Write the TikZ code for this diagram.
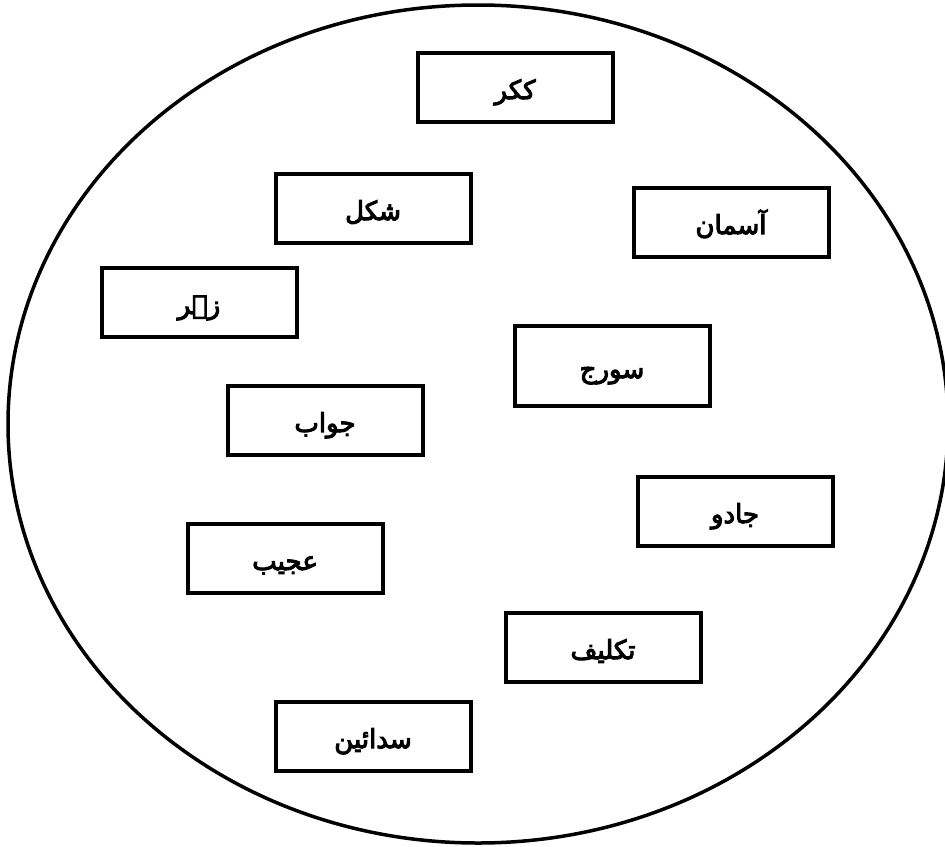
\documentclass[tikz,border=0pt]{standalone}
\usepackage{fontspec}
\newfontfamily\urdufont[Script=Arabic,FakeBold=4]{DejaVu Sans}
\TeXXeTstate=1
\usetikzlibrary{positioning}

\begin{document}
\begin{tikzpicture}[x=1pt,y=-1pt,
		word/.style={draw, line width=4pt, minimum width=195pt, minimum height=69pt, inner sep=0pt, text height=24pt, text depth=0pt, font=\urdufont\fontsize{26}{30}\selectfont}]
			\useasboundingbox (0,0) rectangle (945,846);
			% Outer set
			\draw[line width=3.5pt] (478,424) ellipse (470 and 419);
			% Words
			\node[word] (kukar) at (515,87) {\beginR ککر\endR};
			\node[word] (shakl) at (373,208) {\beginR شکل\endR};
			\node[word] (asman) at (731,222) {\beginR آسمان\endR};
			\node[word] (zehar) at (199,302) {\beginR زہر\endR};
			\node[word, minimum height=80pt] (suraj) at (612,366) {\beginR سورج\endR};
			\node[word] (jawab) at (325,420) {\beginR جواب\endR};
			\node[word] (jadu) at (735,511) {\beginR جادو\endR};
			\node[word] (ajeeb) at (285,558) {\beginR عجیب\endR};
			\node[word] (takleef) at (603,647) {\beginR تکلیف\endR};
			\node[word] (sadain) at (373,736) {\beginR سدائین\endR};
		\end{tikzpicture}
\end{document}
